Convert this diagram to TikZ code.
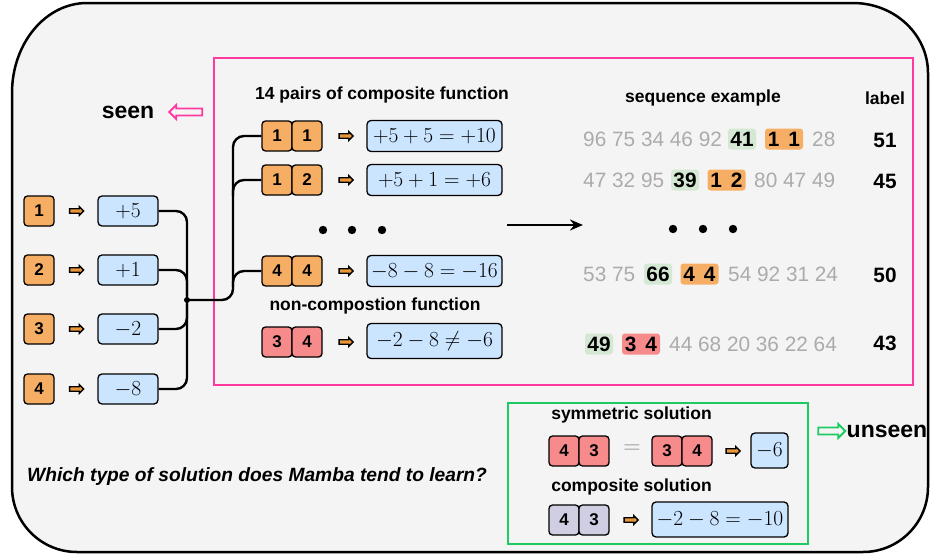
\RequirePackage{fix-cm}
\documentclass[tikz,border=0pt]{standalone}
\usepackage[no-math]{fontspec}
\setmainfont{Liberation Sans}
\usetikzlibrary{shapes.arrows,arrows.meta}
\definecolor{bgc}{HTML}{F4F4F4}
\definecolor{orng}{HTML}{F6AE64}
\definecolor{icono}{HTML}{E9963A}
\definecolor{blu}{HTML}{CCE5FF}
\definecolor{redc}{HTML}{F78A8A}
\definecolor{lav}{HTML}{D0CEE2}
\definecolor{grnhl}{HTML}{D5E8D4}
\definecolor{pinkc}{HTML}{FF3A9E}
\definecolor{grnc}{HTML}{1ECB62}
\definecolor{greyt}{HTML}{ABABAB}
\newcommand\hdrfont{\fontsize{17.5}{20}\selectfont\bfseries}
\newcommand\numfont{\fontsize{17}{20}\selectfont\bfseries}
\newcommand\seqfont{\fontsize{20.8}{24}\selectfont}
\newcommand\seqbold{\fontsize{20.8}{24}\selectfont\bfseries}
\newcommand\mathsz{\fontsize{21.5}{24}\selectfont}
\newcommand\bigfont{\fontsize{23}{26}\selectfont\bfseries}
\begin{document}
\begin{tikzpicture}[x=1pt,y=-1pt,
  numsq/.style={draw, line width=1.3pt, rounded corners=3.5pt, minimum width=30pt, minimum height=30pt, inner sep=0pt, font=\numfont},
  orangebox/.style={numsq, fill=orng},
  redbox/.style={numsq, fill=redc},
  lavbox/.style={numsq, fill=lav},
  bluebox/.style={draw, line width=1.3pt, rounded corners=4pt, fill=blu, minimum height=30pt, inner sep=0pt, font=\mathsz},
  icon/.style={single arrow, draw=black, line width=1.3pt, fill=icono, minimum height=14pt, inner xsep=0pt, inner ysep=1.6pt, single arrow head extend=2.2pt, single arrow head indent=0pt},
  hollow/.style={single arrow, line width=1.8pt, inner xsep=0pt, inner ysep=2.6pt, single arrow head extend=3.5pt, single arrow head indent=0pt},
  hl/.style={rounded corners=3pt, minimum height=21pt, inner sep=0pt, font=\seqbold},
  grey/.style={anchor=west, inner sep=0pt, text=greyt, font=\seqfont},
  hdr/.style={inner sep=0pt, font=\hdrfont},
  lbl/.style={inner sep=0pt, font=\seqbold},
  conn/.style={line width=2.4pt, rounded corners=11pt},
  frame/.style={line width=2.8pt}
]
\useasboundingbox (0,0) rectangle (930,554);
% outer rounded shape
\draw[line width=2.5pt, fill=bgc] (12,93) .. controls (12,43.3) and (45.6,3) .. (87,3)
  -- (853,3) .. controls (894.4,3) and (928,34.3) .. (928,73)
  -- (928,487) .. controls (928,522.9) and (898.9,552) .. (863,552)
  -- (77,552) .. controls (41.1,552) and (12,522.9) .. (12,487) -- cycle;
% frames
\draw[frame, draw=pinkc] (214,58) rectangle (913,385);
\draw[frame, draw=grnc] (508,403) rectangle (808,544);

% seen / unseen
\node[inner sep=0pt, font=\bigfont] (seen) at (128,112) {seen};
\node[hollow, draw=pinkc, minimum height=33pt, shape border rotate=180] (seenarr) at (187.5,112) {};
\node[hollow, draw=grnc, minimum height=27pt] (unseenarr) at (830,431) {};
\node[inner sep=0pt, anchor=west, font=\bigfont] (unseen) at (846.5,431) {unseen};

% left column
\foreach \i/\y/\v in {1/211/+5, 2/270/+1, 3/329/-2, 4/389/-8}{
  \node[orangebox] (n\i) at (39,\y) {\i};
  \node[icon] (ia\i) at (75.5,\y) {};
  \node[bluebox, minimum width=60pt] (b\i) at (128,\y) {$\v$};
}
\coordinate (j) at (187,300);
\draw[conn] (b1.east) -- (187,211) -- (187,389) -- (b4.east);
\draw[conn] (b2.east) -- (187,270) -- (187,296);
\draw[conn] (b3.east) -- (187,329) -- (187,304);
\fill (j) circle (3);

% pairs
\node[hdr] (t14) at (382,95) {14 pairs of composite function};
\node[orangebox] (p11a) at (277,136) {1};
\node[orangebox] (p11b) at (307,136) {1};
\node[icon] (ip11) at (345,136) {};
\node[bluebox, minimum width=135pt, minimum height=31pt] (e11) at (434.5,136) {$+5+5=+10$};
\node[orangebox] (p12a) at (277,180) {1};
\node[orangebox] (p12b) at (307,180) {2};
\node[icon] (ip12) at (345,180) {};
\node[bluebox, minimum width=135pt, minimum height=31pt] (e12) at (434.5,180) {$+5+1=+6$};
\foreach \x in {323,352,382}{\fill (\x,230) circle (4.2);}
\node[orangebox] (p44a) at (277,271) {4};
\node[orangebox] (p44b) at (307,271) {4};
\node[icon] (ip44) at (345,271) {};
\node[bluebox, minimum width=135pt, minimum height=31pt] (e44) at (434.5,271) {$-8-8=-16$};
\node[hdr] (tnc) at (375,306) {non-compostion function};
\node[redbox] (p34a) at (277,342) {3};
\node[redbox] (p34b) at (307,342) {4};
\node[icon] (ip34) at (345,342) {};
\node[bluebox, minimum width=135pt, minimum height=35pt] (e34) at (434.5,341) {$-2-8\neq-6$};

\draw[conn] (j) -- (233,300) -- (233,136) -- (p11a.west);
\draw[conn] (233,196) -- (233,180) -- (p12a.west);
\draw[conn] (233,287) -- (233,271) -- (p44a.west);

% main arrow
\coordinate (as) at (507,225);
\coordinate (ae) at (583,225);
\draw[line width=2.2pt, -{Stealth[length=13pt,width=11pt]}] (as) -- (ae);

% sequence examples
\node[hdr] (tseq) at (703,98) {sequence example};
\node[hdr] (tlab) at (885,98) {label};
% row 1
\node[grey] (s1a) at (583,139) {96 75 34 46 92};
\node[hl, fill=grnhl, minimum width=28pt] (s1g) at (742,139) {41};
\node[hl, fill=orng, minimum width=38pt] (s1o) at (784,139) {1\hspace{9pt}1};
\node[grey] (s1b) at (812,139) {28};
\node[lbl] (l1) at (885,140) {51};
% row 2
\node[grey] (s2a) at (583,180) {47 32 95};
\node[hl, fill=grnhl, minimum width=28pt] (s2g) at (685,180) {39};
\node[hl, fill=orng, minimum width=38pt] (s2o) at (726.5,180) {1\hspace{9pt}2};
\node[grey] (s2b) at (754,180) {80 47 49};
\node[lbl] (l2) at (885,181) {45};
\foreach \x in {673,703,733}{\fill (\x,229) circle (4.2);}
% row 4
\node[grey] (s4a) at (583,274) {53 75};
\node[hl, fill=grnhl, minimum width=28pt] (s4g) at (658,274) {66};
\node[hl, fill=orng, minimum width=38pt] (s4o) at (699.5,274) {4\hspace{9pt}4};
\node[grey] (s4b) at (728,274) {54 92 31 24};
\node[lbl] (l4) at (885,275) {50};
% non-comp row
\node[hl, fill=grnhl, minimum width=28pt] (s5g) at (599,344) {49};
\node[hl, fill=redc, minimum width=38pt] (s5o) at (641,344) {3\hspace{9pt}4};
\node[grey] (s5b) at (669,344) {44 68 20 36 22 64};
\node[lbl] (l5) at (885,343) {43};

% question
\node[inner sep=0pt, anchor=west, font=\fontsize{19.2}{22}\selectfont\bfseries\itshape] (q) at (27,477) {Which type of solution does Mamba tend to learn?};

% green box content
\node[hdr] (tsym) at (631.5,415) {symmetric solution};
\node[redbox] (sy1) at (564,451) {4};
\node[redbox] (sy2) at (594,451) {3};
\node[inner sep=0pt, text=black!45, font=\fontsize{24}{26}\selectfont] (eq) at (632,449) {$=$};
\node[redbox] (sy3) at (667,451) {3};
\node[redbox] (sy4) at (697,451) {4};
\node[icon] (isy) at (732,451) {};
\node[bluebox, minimum width=37pt, minimum height=35pt] (esy) at (769.5,450.5) {$-6$};
\node[hdr] (tcomp) at (631.5,487) {composite solution};
\node[lavbox] (cp1) at (564,520) {4};
\node[lavbox] (cp2) at (594,520) {3};
\node[icon] (icp) at (630,520) {};
\node[bluebox, minimum width=136pt, minimum height=35pt] (ecp) at (720,519.5) {$-2-8=-10$};
\end{tikzpicture}
\end{document}
